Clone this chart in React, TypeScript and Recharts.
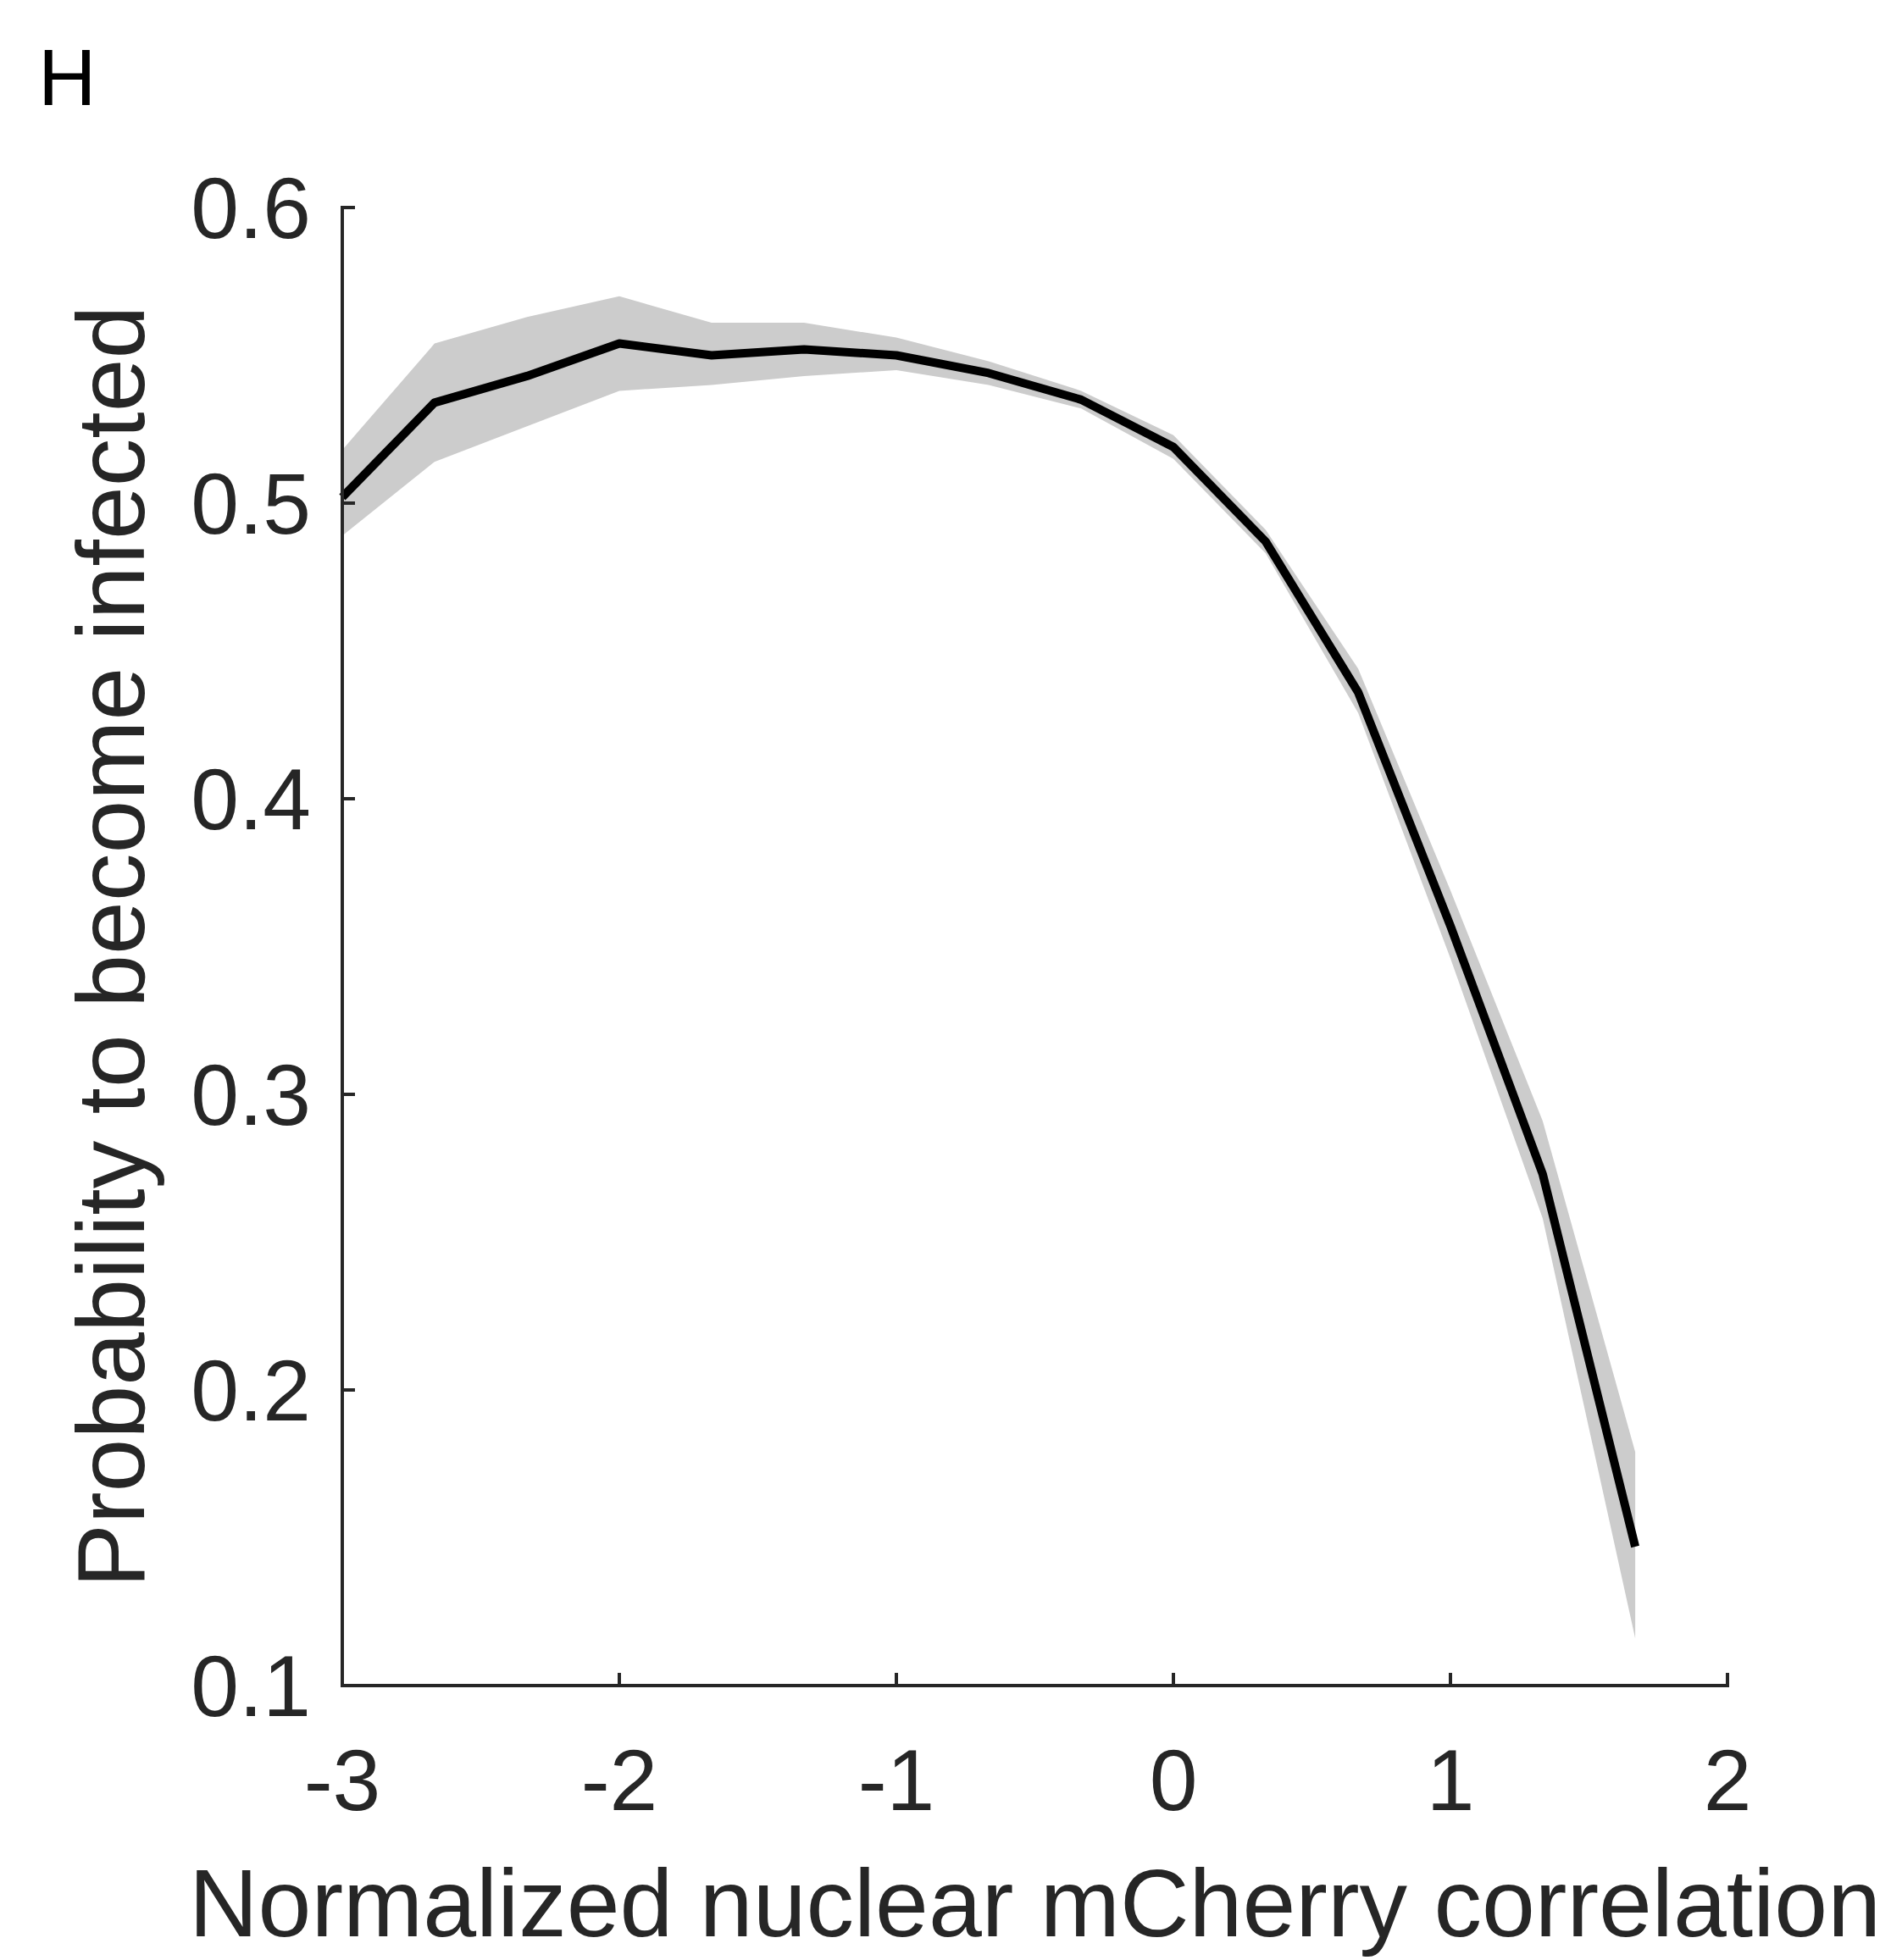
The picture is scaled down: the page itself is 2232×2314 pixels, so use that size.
import { ComposedChart, Area, Line, XAxis, YAxis, Label } from "recharts";

// bin centres along the normalized correlation axis
const correlation = [-3, -2.667, -2.333, -2, -1.667, -1.333, -1, -0.667, -0.333, 0, 0.333, 0.667, 1, 1.333, 1.667];
// fitted probability and its confidence band
const probability = [0.502, 0.534, 0.543, 0.554, 0.55, 0.552, 0.55, 0.544, 0.535, 0.519, 0.487, 0.436, 0.357, 0.273, 0.147];
const upperBound = [0.518, 0.554, 0.563, 0.57, 0.561, 0.561, 0.556, 0.548, 0.538, 0.523, 0.491, 0.444, 0.369, 0.291, 0.179];
const lowerBound = [0.489, 0.514, 0.526, 0.538, 0.54, 0.543, 0.545, 0.54, 0.532, 0.515, 0.483, 0.429, 0.346, 0.258, 0.116];

const xTicks = [-3, -2, -1, 0, 1, 2];
const yTicks = [0.1, 0.2, 0.3, 0.4, 0.5, 0.6];

const rows = correlation.map((x, i) => ({
  x,
  p: probability[i],
  band: [lowerBound[i], upperBound[i]],
}));

const INK = "#262626";
const FONT = "'Liberation Sans', Arial, Helvetica, sans-serif";
const AXIS_W = 4;

// ticks point inward, matlab style
function XTick({ x, y, payload }: any) {
  return (
    <g>
      <line x1={x} x2={x} y1={y} y2={y - 15} stroke={INK} strokeWidth={AXIS_W} />
      <text x={x} y={y + 147} textAnchor="middle" fontSize={102} fontFamily={FONT} fill={INK}>
        {payload.value}
      </text>
    </g>
  );
}

function YTick({ x, y, payload }: any) {
  return (
    <g>
      <line x1={x} x2={x + 15} y1={y} y2={y} stroke={INK} strokeWidth={AXIS_W} />
      <text x={x - 37} y={y + 36} textAnchor="end" fontSize={102} fontFamily={FONT} fill={INK}>
        {payload.value.toFixed(1)}
      </text>
    </g>
  );
}

export default function App() {
  return (
    <div style={{ position: "absolute", left: 0, top: 0, width: 2232, height: 2314, background: "#fff" }}>
      <ComposedChart
        width={2232}
        height={2314}
        data={rows}
        margin={{ top: 245, right: 193, bottom: 224, left: 304 }}
      >
        <XAxis
          dataKey="x"
          type="number"
          domain={[-3, 2]}
          ticks={xTicks}
          height={100}
          tickSize={0}
          tickMargin={0}
          tickLine={false}
          axisLine={{ stroke: INK, strokeWidth: AXIS_W, strokeLinecap: "square" }}
          tick={<XTick />}
        >
          <Label
            content={({ viewBox }: any) => (
              <text
                x={viewBox.x + viewBox.width / 2}
                y={viewBox.y + 296}
                textAnchor="middle"
                fontSize={113}
                fontFamily={FONT}
                fill={INK}
              >
                Normalized nuclear mCherry correlation
              </text>
            )}
          />
        </XAxis>
        <YAxis
          type="number"
          domain={[0.1, 0.6]}
          ticks={yTicks}
          width={100}
          tickSize={0}
          tickMargin={0}
          tickLine={false}
          axisLine={{ stroke: INK, strokeWidth: AXIS_W, strokeLinecap: "square" }}
          tick={<YTick />}
        >
          <Label
            content={({ viewBox }: any) => {
              const cx = 170;
              const cy = viewBox.y + viewBox.height / 2;
              return (
                <g>
                  <text
                    x={cx}
                    y={cy}
                    transform={`rotate(-90, ${cx}, ${cy})`}
                    textAnchor="middle"
                    fontSize={113}
                    fontFamily={FONT}
                    fill={INK}
                  >
                    Probability to become infected
                  </text>
                  <text x={45} y={124} fontSize={95} fontFamily={FONT} fill="#000">
                    H
                  </text>
                </g>
              );
            }}
          />
        </YAxis>
        <Area
          dataKey="band"
          type="linear"
          stroke="none"
          fill="#cccccc"
          fillOpacity={1}
          isAnimationActive={false}
        />
        <Line
          dataKey="p"
          type="linear"
          stroke="#000"
          strokeWidth={10}
          strokeLinejoin="round"
          dot={false}
          activeDot={false}
          isAnimationActive={false}
        />
      </ComposedChart>
    </div>
  );
}
